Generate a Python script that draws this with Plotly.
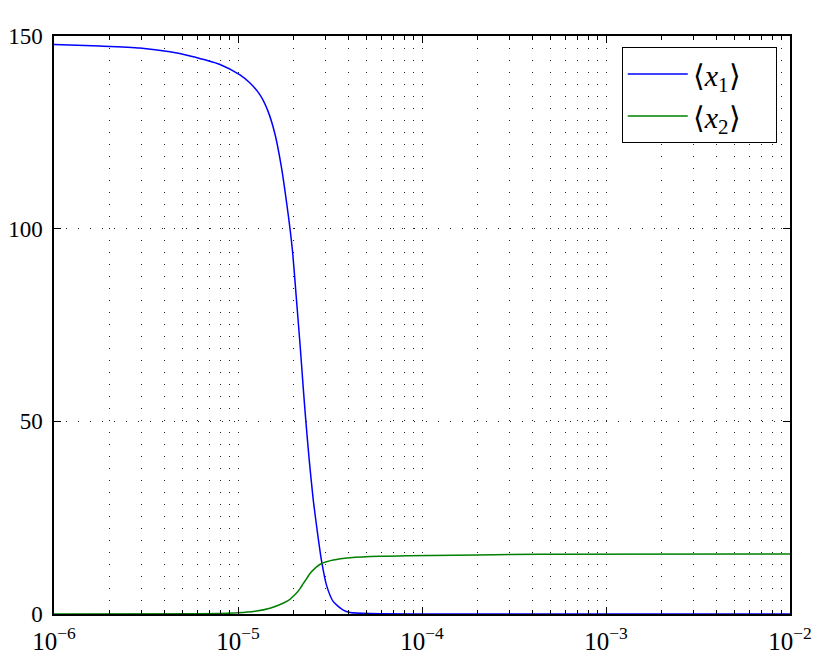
import plotly.graph_objects as go

# Data
x1_vals = [1e-6, 1.778e-6, 2.93e-6, 4.27e-6, 5.49e-6, 7.98e-6, 1.025e-5, 1.162e-5,
           1.317e-5, 1.455e-5, 1.589e-5, 1.728e-5, 1.840e-5, 1.917e-5, 1.984e-5,
           2.067e-5, 2.173e-5, 2.264e-5, 2.333e-5, 2.432e-5, 2.566e-5, 2.732e-5,
           2.851e-5, 3.034e-5, 3.296e-5, 3.736e-5, 4.062e-5, 5.218e-5, 9.75e-5, 1e-2]
x1_mean = [147.8, 147.4, 146.9, 145.9, 144.8, 142.6, 139.9, 137.8,
           134.7, 130.5, 124.5, 115.5, 106.5, 100.0, 93.5,
           83.0, 70.0, 58.5, 50.5, 40.5, 29.5, 19.5,
           13.5, 7.3, 3.2, 1.0, 0.4, 0.1, 0.0, 0.0]

x2_vals = [1e-6, 6.22e-6, 1e-5, 1.237e-5, 1.492e-5, 1.756e-5, 1.917e-5, 1.998e-5,
           2.093e-5, 2.173e-5, 2.256e-5, 2.362e-5, 2.462e-5, 2.654e-5, 2.851e-5,
           3.296e-5, 4.062e-5, 5.91e-5, 8.26e-5, 4.38e-4, 1e-2]
x2_mean = [0.0, 0.05, 0.3, 0.7, 1.5, 2.8, 3.8, 4.6,
           5.6, 6.6, 7.8, 9.2, 10.5, 12.1, 13.1,
           14.0, 14.6, 15.0, 15.1, 15.5, 15.6]

x_tick_vals = [1e-6, 1e-5, 1e-4, 1e-3, 1e-2]
x_tick_text = ["10<sup>−6</sup>", "10<sup>−5</sup>", "10<sup>−4</sup>",
               "10<sup>−3</sup>", "10<sup>−2</sup>"]
y_tick_vals = [0, 50, 100, 150]

FONT = "Liberation Serif"
GRID = "#222"
DOTS = "1px,11px"

fig = go.Figure()
fig.add_trace(go.Scatter(x=x1_vals, y=x1_mean, mode="lines",
                         name="⟨<i>x</i><sub>1</sub>⟩\u2003",
                         line=dict(color="#0000ff", width=1.5, shape="spline", smoothing=0.6)))
fig.add_trace(go.Scatter(x=x2_vals, y=x2_mean, mode="lines",
                         name="⟨<i>x</i><sub>2</sub>⟩\u2003",
                         line=dict(color="#008000", width=1.5, shape="spline", smoothing=0.6)))

fig.update_layout(
    width=830, height=658,
    margin=dict(l=54, r=40, t=36, b=44),
    paper_bgcolor="white", plot_bgcolor="white",
    font=dict(family=FONT, size=24, color="black"),
    showlegend=True,
    legend=dict(x=0.982, y=0.981, xanchor="right", yanchor="top",
                bgcolor="white", bordercolor="black", borderwidth=1,
                font=dict(family=FONT, size=30), tracegroupgap=0,
                itemwidth=60),
    xaxis=dict(type="log", range=[-6, -2], automargin=False,
               tickmode="array", tickvals=x_tick_vals, ticktext=x_tick_text,
               ticks="inside", ticklen=7, tickcolor="black", tickwidth=1,
               showline=True, linecolor="black", linewidth=1.5, mirror="ticks",
               showgrid=True, gridcolor=GRID, gridwidth=1, griddash=DOTS,
               minor=dict(dtick="D1", ticks="inside", ticklen=4, tickcolor="black",
                          showgrid=True, gridcolor=GRID, gridwidth=1, griddash=DOTS),
               zeroline=False, ticklabelstandoff=4,
               tickfont=dict(family=FONT, size=25)),
    yaxis=dict(range=[0, 150], tickmode="array", tickvals=y_tick_vals, automargin=False,
               ticks="inside", ticklen=7, tickcolor="black", tickwidth=1,
               showline=True, linecolor="black", linewidth=1.5, mirror="ticks",
               showgrid=True, gridcolor=GRID, gridwidth=1, griddash=DOTS,
               zeroline=False, ticklabelstandoff=5,
               tickfont=dict(family=FONT, size=23)),
)

fig.write_html("out.html", config={"displayModeBar": False},
               post_script="document.body.style.margin='0';document.body.style.overflow='hidden';")
